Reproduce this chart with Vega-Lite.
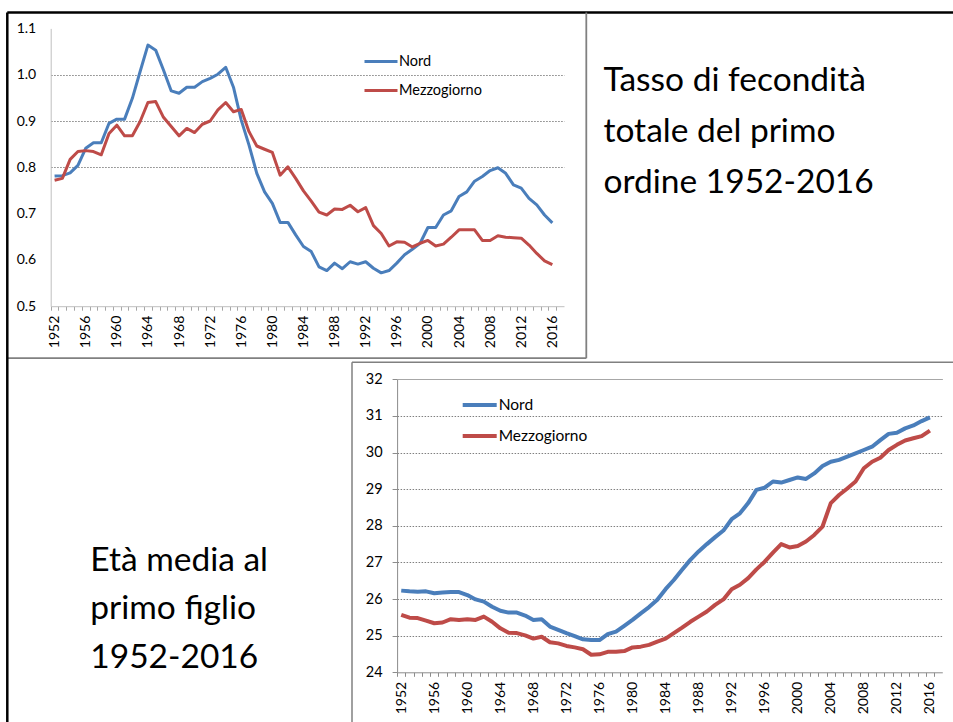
{
  "$schema": "https://vega.github.io/schema/vega-lite/v6.json",
  "width": 953,
  "height": 722,
  "autosize": "none",
  "padding": 0,
  "background": "white",
  "config": {
    "view": {"stroke": null},
    "font": "Lato",
    "axis": {"labelFont": "Lato", "titleFont": "Lato", "labelColor": "#000000"},
    "legend": {"labelFont": "Lato", "labelColor": "#000000"}
  },
  "datasets": {
    "fecondita": [
      {"anno": 1952, "Nord": 0.781, "Mezzogiorno": 0.772},
      {"anno": 1953, "Nord": 0.782, "Mezzogiorno": 0.776},
      {"anno": 1954, "Nord": 0.788, "Mezzogiorno": 0.817},
      {"anno": 1955, "Nord": 0.804, "Mezzogiorno": 0.834},
      {"anno": 1956, "Nord": 0.841, "Mezzogiorno": 0.836},
      {"anno": 1957, "Nord": 0.853, "Mezzogiorno": 0.834},
      {"anno": 1958, "Nord": 0.853, "Mezzogiorno": 0.827},
      {"anno": 1959, "Nord": 0.895, "Mezzogiorno": 0.873},
      {"anno": 1960, "Nord": 0.904, "Mezzogiorno": 0.891},
      {"anno": 1961, "Nord": 0.904, "Mezzogiorno": 0.868},
      {"anno": 1962, "Nord": 0.949, "Mezzogiorno": 0.868},
      {"anno": 1963, "Nord": 1.007, "Mezzogiorno": 0.899},
      {"anno": 1964, "Nord": 1.064, "Mezzogiorno": 0.940},
      {"anno": 1965, "Nord": 1.053, "Mezzogiorno": 0.942},
      {"anno": 1966, "Nord": 1.010, "Mezzogiorno": 0.908},
      {"anno": 1967, "Nord": 0.965, "Mezzogiorno": 0.888},
      {"anno": 1968, "Nord": 0.960, "Mezzogiorno": 0.868},
      {"anno": 1969, "Nord": 0.973, "Mezzogiorno": 0.884},
      {"anno": 1970, "Nord": 0.973, "Mezzogiorno": 0.875},
      {"anno": 1971, "Nord": 0.985, "Mezzogiorno": 0.893},
      {"anno": 1972, "Nord": 0.992, "Mezzogiorno": 0.900},
      {"anno": 1973, "Nord": 1.001, "Mezzogiorno": 0.924},
      {"anno": 1974, "Nord": 1.016, "Mezzogiorno": 0.940},
      {"anno": 1975, "Nord": 0.973, "Mezzogiorno": 0.920},
      {"anno": 1976, "Nord": 0.902, "Mezzogiorno": 0.925},
      {"anno": 1977, "Nord": 0.848, "Mezzogiorno": 0.877},
      {"anno": 1978, "Nord": 0.787, "Mezzogiorno": 0.846},
      {"anno": 1979, "Nord": 0.747, "Mezzogiorno": 0.839},
      {"anno": 1980, "Nord": 0.722, "Mezzogiorno": 0.832},
      {"anno": 1981, "Nord": 0.681, "Mezzogiorno": 0.783},
      {"anno": 1982, "Nord": 0.681, "Mezzogiorno": 0.801},
      {"anno": 1983, "Nord": 0.654, "Mezzogiorno": 0.776},
      {"anno": 1984, "Nord": 0.629, "Mezzogiorno": 0.749},
      {"anno": 1985, "Nord": 0.618, "Mezzogiorno": 0.727},
      {"anno": 1986, "Nord": 0.585, "Mezzogiorno": 0.703},
      {"anno": 1987, "Nord": 0.577, "Mezzogiorno": 0.697},
      {"anno": 1988, "Nord": 0.593, "Mezzogiorno": 0.710},
      {"anno": 1989, "Nord": 0.581, "Mezzogiorno": 0.709},
      {"anno": 1990, "Nord": 0.596, "Mezzogiorno": 0.718},
      {"anno": 1991, "Nord": 0.591, "Mezzogiorno": 0.704},
      {"anno": 1992, "Nord": 0.596, "Mezzogiorno": 0.713},
      {"anno": 1993, "Nord": 0.582, "Mezzogiorno": 0.674},
      {"anno": 1994, "Nord": 0.572, "Mezzogiorno": 0.657},
      {"anno": 1995, "Nord": 0.577, "Mezzogiorno": 0.630},
      {"anno": 1996, "Nord": 0.593, "Mezzogiorno": 0.639},
      {"anno": 1997, "Nord": 0.611, "Mezzogiorno": 0.638},
      {"anno": 1998, "Nord": 0.623, "Mezzogiorno": 0.628},
      {"anno": 1999, "Nord": 0.636, "Mezzogiorno": 0.636},
      {"anno": 2000, "Nord": 0.670, "Mezzogiorno": 0.642},
      {"anno": 2001, "Nord": 0.670, "Mezzogiorno": 0.630},
      {"anno": 2002, "Nord": 0.697, "Mezzogiorno": 0.634},
      {"anno": 2003, "Nord": 0.706, "Mezzogiorno": 0.649},
      {"anno": 2004, "Nord": 0.737, "Mezzogiorno": 0.665},
      {"anno": 2005, "Nord": 0.747, "Mezzogiorno": 0.665},
      {"anno": 2006, "Nord": 0.770, "Mezzogiorno": 0.665},
      {"anno": 2007, "Nord": 0.780, "Mezzogiorno": 0.642},
      {"anno": 2008, "Nord": 0.793, "Mezzogiorno": 0.642},
      {"anno": 2009, "Nord": 0.799, "Mezzogiorno": 0.652},
      {"anno": 2010, "Nord": 0.787, "Mezzogiorno": 0.649},
      {"anno": 2011, "Nord": 0.762, "Mezzogiorno": 0.648},
      {"anno": 2012, "Nord": 0.755, "Mezzogiorno": 0.647},
      {"anno": 2013, "Nord": 0.733, "Mezzogiorno": 0.632},
      {"anno": 2014, "Nord": 0.719, "Mezzogiorno": 0.614},
      {"anno": 2015, "Nord": 0.697, "Mezzogiorno": 0.598},
      {"anno": 2016, "Nord": 0.680, "Mezzogiorno": 0.590}
    ],
    "eta": [
      {"anno": 1952, "Nord": 26.23, "Mezzogiorno": 25.57},
      {"anno": 1953, "Nord": 26.21, "Mezzogiorno": 25.49},
      {"anno": 1954, "Nord": 26.20, "Mezzogiorno": 25.48},
      {"anno": 1955, "Nord": 26.21, "Mezzogiorno": 25.41},
      {"anno": 1956, "Nord": 26.16, "Mezzogiorno": 25.34},
      {"anno": 1957, "Nord": 26.18, "Mezzogiorno": 25.36},
      {"anno": 1958, "Nord": 26.19, "Mezzogiorno": 25.45},
      {"anno": 1959, "Nord": 26.19, "Mezzogiorno": 25.43},
      {"anno": 1960, "Nord": 26.11, "Mezzogiorno": 25.45},
      {"anno": 1961, "Nord": 25.99, "Mezzogiorno": 25.43},
      {"anno": 1962, "Nord": 25.93, "Mezzogiorno": 25.52},
      {"anno": 1963, "Nord": 25.79, "Mezzogiorno": 25.38},
      {"anno": 1964, "Nord": 25.68, "Mezzogiorno": 25.20},
      {"anno": 1965, "Nord": 25.63, "Mezzogiorno": 25.08},
      {"anno": 1966, "Nord": 25.63, "Mezzogiorno": 25.07},
      {"anno": 1967, "Nord": 25.55, "Mezzogiorno": 25.01},
      {"anno": 1968, "Nord": 25.43, "Mezzogiorno": 24.92},
      {"anno": 1969, "Nord": 25.45, "Mezzogiorno": 24.97},
      {"anno": 1970, "Nord": 25.25, "Mezzogiorno": 24.82},
      {"anno": 1971, "Nord": 25.16, "Mezzogiorno": 24.79},
      {"anno": 1972, "Nord": 25.07, "Mezzogiorno": 24.72},
      {"anno": 1973, "Nord": 24.99, "Mezzogiorno": 24.68},
      {"anno": 1974, "Nord": 24.90, "Mezzogiorno": 24.63},
      {"anno": 1975, "Nord": 24.88, "Mezzogiorno": 24.48},
      {"anno": 1976, "Nord": 24.88, "Mezzogiorno": 24.49},
      {"anno": 1977, "Nord": 25.04, "Mezzogiorno": 24.56},
      {"anno": 1978, "Nord": 25.11, "Mezzogiorno": 24.56},
      {"anno": 1979, "Nord": 25.27, "Mezzogiorno": 24.58},
      {"anno": 1980, "Nord": 25.43, "Mezzogiorno": 24.68},
      {"anno": 1981, "Nord": 25.61, "Mezzogiorno": 24.70},
      {"anno": 1982, "Nord": 25.78, "Mezzogiorno": 24.75},
      {"anno": 1983, "Nord": 25.98, "Mezzogiorno": 24.84},
      {"anno": 1984, "Nord": 26.27, "Mezzogiorno": 24.92},
      {"anno": 1985, "Nord": 26.52, "Mezzogiorno": 25.07},
      {"anno": 1986, "Nord": 26.80, "Mezzogiorno": 25.22},
      {"anno": 1987, "Nord": 27.07, "Mezzogiorno": 25.38},
      {"anno": 1988, "Nord": 27.30, "Mezzogiorno": 25.52},
      {"anno": 1989, "Nord": 27.50, "Mezzogiorno": 25.66},
      {"anno": 1990, "Nord": 27.69, "Mezzogiorno": 25.84},
      {"anno": 1991, "Nord": 27.87, "Mezzogiorno": 25.99},
      {"anno": 1992, "Nord": 28.18, "Mezzogiorno": 26.27},
      {"anno": 1993, "Nord": 28.34, "Mezzogiorno": 26.39},
      {"anno": 1994, "Nord": 28.62, "Mezzogiorno": 26.57},
      {"anno": 1995, "Nord": 28.98, "Mezzogiorno": 26.81},
      {"anno": 1996, "Nord": 29.04, "Mezzogiorno": 27.02},
      {"anno": 1997, "Nord": 29.21, "Mezzogiorno": 27.27},
      {"anno": 1998, "Nord": 29.18, "Mezzogiorno": 27.50},
      {"anno": 1999, "Nord": 29.25, "Mezzogiorno": 27.41},
      {"anno": 2000, "Nord": 29.32, "Mezzogiorno": 27.45},
      {"anno": 2001, "Nord": 29.28, "Mezzogiorno": 27.57},
      {"anno": 2002, "Nord": 29.43, "Mezzogiorno": 27.75},
      {"anno": 2003, "Nord": 29.63, "Mezzogiorno": 27.98},
      {"anno": 2004, "Nord": 29.75, "Mezzogiorno": 28.62},
      {"anno": 2005, "Nord": 29.80, "Mezzogiorno": 28.84},
      {"anno": 2006, "Nord": 29.89, "Mezzogiorno": 29.02},
      {"anno": 2007, "Nord": 29.98, "Mezzogiorno": 29.21},
      {"anno": 2008, "Nord": 30.07, "Mezzogiorno": 29.57},
      {"anno": 2009, "Nord": 30.16, "Mezzogiorno": 29.75},
      {"anno": 2010, "Nord": 30.34, "Mezzogiorno": 29.86},
      {"anno": 2011, "Nord": 30.51, "Mezzogiorno": 30.07},
      {"anno": 2012, "Nord": 30.54, "Mezzogiorno": 30.21},
      {"anno": 2013, "Nord": 30.66, "Mezzogiorno": 30.33},
      {"anno": 2014, "Nord": 30.74, "Mezzogiorno": 30.39},
      {"anno": 2015, "Nord": 30.86, "Mezzogiorno": 30.45},
      {"anno": 2016, "Nord": 30.96, "Mezzogiorno": 30.60}
    ]
  },
  "layer": [
    {
      "data": {"name": "fecondita"},
      "transform": [{"fold": ["Nord", "Mezzogiorno"], "as": ["area", "valore"]}],
      "mark": {"type": "line", "strokeWidth": 3, "strokeJoin": "round"},
      "encoding": {
        "x": {
          "field": "anno", "type": "quantitative",
          "scale": {"domain": [1951.5, 2017.5], "range": [50.7, 564], "nice": false, "zero": false},
          "axis": {
            "orient": "bottom", "offset": -415.8, "title": null,
            "values": [1952,1953,1954,1955,1956,1957,1958,1959,1960,1961,1962,1963,1964,1965,1966,1967,1968,1969,1970,1971,1972,1973,1974,1975,1976,1977,1978,1979,1980,1981,1982,1983,1984,1985,1986,1987,1988,1989,1990,1991,1992,1993,1994,1995,1996,1997,1998,1999,2000,2001,2002,2003,2004,2005,2006,2007,2008,2009,2010,2011,2012,2013,2014,2015,2016,2017,2018],
            "format": "d",
            "labelExpr": "datum.value % 4 == 0 && datum.value <= 2016 ? datum.label : ''",
            "tickOffset": -3.89, "labelOffset": 3.89,
            "labelAngle": 270, "labelFontSize": 14, "labelPadding": 5,
            "labelOverlap": false, "labelFlush": false,
            "tickSize": 4, "tickColor": "#A6A6A6", "domainColor": "#BFBFBF",
            "grid": true, "gridColor": "#BFBFBF", "gridWidth": 1,
            "gridOpacity": {"condition": {"test": "datum.value == 2018", "value": 1}, "value": 0}
          }
        },
        "y": {
          "field": "valore", "type": "quantitative",
          "scale": {"domain": [0.5, 1.1], "range": [306.2, 28.4], "nice": false, "zero": false},
          "axis": {
            "orient": "left", "offset": -50.7, "title": null,
            "values": [0.5, 0.6, 0.7, 0.8, 0.9, 1.0, 1.1], "format": ".1f",
            "labelFontSize": 14, "labelPadding": 15, "tickSize": 0,
            "domainColor": "#BFBFBF",
            "grid": true, "gridColor": "#808080", "gridDash": [1.5, 1.5], "gridWidth": 1,
            "gridOpacity": {"condition": {"test": "datum.value > 0.75 && datum.value < 1.05", "value": 1}, "value": 0}
          }
        },
        "color": {
          "field": "area", "type": "nominal",
          "scale": {"domain": ["Nord", "Mezzogiorno"], "range": ["#4A7EBB", "#BE4B48"]},
          "legend": {
            "title": null, "orient": "none", "legendX": 363, "legendY": 43.5, "padding": 0,
            "symbolType": "stroke", "symbolSize": 1089, "symbolStrokeWidth": 3,
            "labelFontSize": 14.5, "labelOffset": 0, "rowPadding": 4, "labelLimit": 300
          }
        }
      }
    },
    {
      "data": {"name": "eta"},
      "transform": [{"fold": ["Nord", "Mezzogiorno"], "as": ["area", "valore"]}],
      "mark": {"type": "line", "strokeWidth": 4, "strokeJoin": "round"},
      "encoding": {
        "x": {
          "field": "anno", "type": "quantitative",
          "scale": {"domain": [1951.5, 2017.5], "range": [397.1, 942.3], "nice": false, "zero": false},
          "axis": {
            "orient": "bottom", "offset": -49.7, "title": null,
            "values": [1952,1953,1954,1955,1956,1957,1958,1959,1960,1961,1962,1963,1964,1965,1966,1967,1968,1969,1970,1971,1972,1973,1974,1975,1976,1977,1978,1979,1980,1981,1982,1983,1984,1985,1986,1987,1988,1989,1990,1991,1992,1993,1994,1995,1996,1997,1998,1999,2000,2001,2002,2003,2004,2005,2006,2007,2008,2009,2010,2011,2012,2013,2014,2015,2016,2017,2018],
            "format": "d",
            "labelExpr": "datum.value % 4 == 0 && datum.value <= 2016 ? datum.label : ''",
            "tickOffset": -4.13, "labelOffset": 4.13,
            "labelAngle": 270, "labelFontSize": 14, "labelPadding": 5,
            "labelOverlap": false, "labelFlush": false,
            "tickSize": 4, "tickColor": "#8C8C8C", "domainColor": "#8C8C8C",
            "grid": true, "gridColor": "#8C8C8C", "gridWidth": 1,
            "gridOpacity": {"condition": {"test": "datum.value == 2018", "value": 1}, "value": 0}
          }
        },
        "y": {
          "field": "valore", "type": "quantitative",
          "scale": {"domain": [24, 32], "range": [672.3, 379.3], "nice": false, "zero": false},
          "axis": {
            "orient": "left", "offset": -397.1, "title": null,
            "values": [24, 25, 26, 27, 28, 29, 30, 31, 32], "format": "d",
            "labelFontSize": 14.5, "labelPadding": 10, "tickSize": 5, "tickColor": "#8C8C8C",
            "domainColor": "#8C8C8C",
            "grid": true, "gridWidth": 1,
            "gridColor": {"condition": {"test": "datum.value > 31.5", "value": "#8C8C8C"}, "value": "#808080"},
            "gridDash": {"condition": {"test": "datum.value > 31.5", "value": [1, 0]}, "value": [1.5, 1.5]},
            "gridOpacity": {"condition": {"test": "datum.value < 24.5", "value": 0}, "value": 1}
          }
        },
        "color": {
          "field": "area", "type": "nominal",
          "scale": {"domain": ["Nord", "Mezzogiorno"], "range": ["#4A7EBB", "#BE4B48"]},
          "legend": {
            "title": null, "orient": "none", "legendX": 460.7, "legendY": 386, "padding": 0,
            "symbolType": "stroke", "symbolSize": 1156, "symbolStrokeWidth": 4,
            "labelFontSize": 15.5, "labelOffset": 0, "rowPadding": 3, "labelLimit": 300
          }
        }
      }
    },
    {
      "data": {"name": "fecondita"},
      "mark": {"type": "point", "opacity": 0},
      "encoding": {
        "x": {
          "field": "anno", "type": "quantitative",
          "scale": {"domain": [1951.5, 2017.5], "range": [6.8, 953], "nice": false, "zero": false},
          "axis": {
            "orient": "top", "offset": -12, "labels": false, "ticks": false, "grid": false,
            "domainColor": "#000000", "domainWidth": 2.5,
            "title": ["Tasso di fecondità", "totale del primo", "ordine 1952-2016"],
            "titleX": 603, "titleY": 68, "titleAngle": 0, "titleAlign": "left", "titleBaseline": "middle",
            "titleFontSize": 33.5, "titleFontWeight": "normal", "titleLineHeight": 51, "titleColor": "#000000"
          }
        },
        "y": {
          "field": "Nord", "type": "quantitative",
          "scale": {"domain": [0.5, 1.1], "range": [722, 12], "nice": false, "zero": false},
          "axis": {
            "orient": "left", "offset": -6.8, "labels": false, "ticks": false, "grid": false,
            "domainColor": "#000000", "domainWidth": 2.5,
            "title": ["Età media al", "primo figlio", "1952-2016"],
            "titleX": 83, "titleY": 560, "titleAngle": 0, "titleAlign": "left", "titleBaseline": "middle",
            "titleFontSize": 33.5, "titleFontWeight": "normal", "titleLineHeight": 48.5, "titleColor": "#000000"
          }
        }
      }
    },
    {
      "data": {"name": "fecondita"},
      "mark": {"type": "point", "opacity": 0},
      "encoding": {
        "x": {
          "field": "anno", "type": "quantitative",
          "scale": {"domain": [1951.5, 2017.5], "range": [6.8, 585.8], "nice": false, "zero": false},
          "axis": {
            "orient": "bottom", "offset": -364.3, "labels": false, "ticks": false, "grid": false,
            "domainColor": "#808080", "domainWidth": 1.8, "title": null
          }
        },
        "y": {
          "field": "Nord", "type": "quantitative",
          "scale": {"domain": [0.5, 1.1], "range": [357.7, 12], "nice": false, "zero": false},
          "axis": {
            "orient": "right", "offset": -367.2, "labels": false, "ticks": false, "grid": false,
            "domainColor": "#808080", "domainWidth": 1.8, "title": null
          }
        }
      }
    },
    {
      "data": {"name": "eta"},
      "mark": {"type": "point", "opacity": 0},
      "encoding": {
        "x": {
          "field": "anno", "type": "quantitative",
          "scale": {"domain": [1951.5, 2017.5], "range": [351.5, 953], "nice": false, "zero": false},
          "axis": {
            "orient": "top", "offset": -361.7, "labels": false, "ticks": false, "grid": false,
            "domainColor": "#808080", "domainWidth": 1.5, "title": null
          }
        },
        "y": {
          "field": "Nord", "type": "quantitative",
          "scale": {"domain": [24, 32], "range": [722, 361.7], "nice": false, "zero": false},
          "axis": {
            "orient": "left", "offset": -351.5, "labels": false, "ticks": false, "grid": false,
            "domainColor": "#808080", "domainWidth": 1.5, "title": null
          }
        }
      }
    }
  ],
  "resolve": {
    "scale": {"x": "independent", "y": "independent", "color": "independent"},
    "axis": {"x": "independent", "y": "independent"},
    "legend": {"color": "independent"}
  }
}
